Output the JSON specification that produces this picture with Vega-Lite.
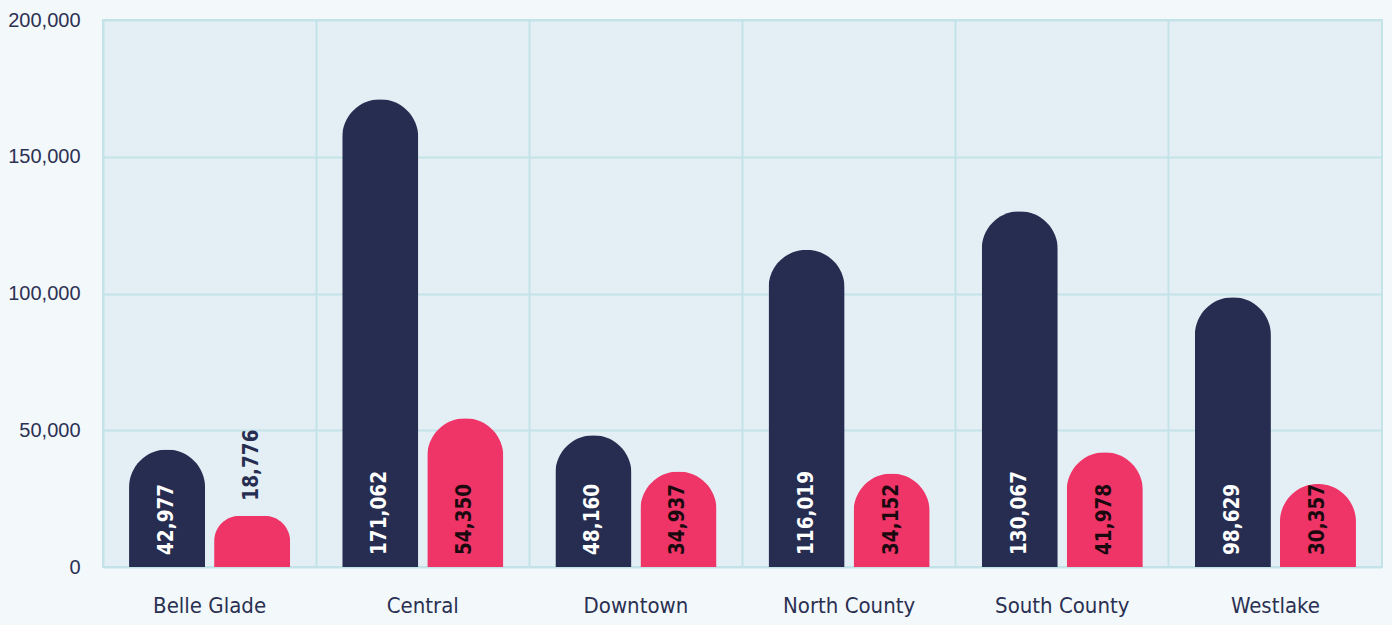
{
  "$schema": "https://vega.github.io/schema/vega-lite/v6.json",
  "width": 1279,
  "height": 547,
  "autosize": {"type": "none"},
  "padding": {"left": 103, "top": 20, "right": 10, "bottom": 58},
  "background": "#f3f8fb",
  "config": {
    "view": {"fill": "#e3eff5", "stroke": "#c3e3e8", "strokeWidth": 2},
    "axis": {"gridColor": "#c3e3e8", "gridWidth": 2, "gridOpacity": 1}
  },
  "data": {
    "values": [
      {"branch": "Belle Glade", "series": "Series A", "value": 42977},
      {"branch": "Belle Glade", "series": "Series B", "value": 18776},
      {"branch": "Central", "series": "Series A", "value": 171062},
      {"branch": "Central", "series": "Series B", "value": 54350},
      {"branch": "Downtown", "series": "Series A", "value": 48160},
      {"branch": "Downtown", "series": "Series B", "value": 34937},
      {"branch": "North County", "series": "Series A", "value": 116019},
      {"branch": "North County", "series": "Series B", "value": 34152},
      {"branch": "South County", "series": "Series A", "value": 130067},
      {"branch": "South County", "series": "Series B", "value": 41978},
      {"branch": "Westlake", "series": "Series A", "value": 98629},
      {"branch": "Westlake", "series": "Series B", "value": 30357}
    ]
  },
  "encoding": {
    "x": {
      "field": "branch",
      "type": "nominal",
      "scale": {"paddingInner": 0, "paddingOuter": 0},
      "axis": {
        "title": null,
        "labelAngle": 0,
        "labelFont": "DejaVu Sans Condensed, sans-serif",
        "labelFontSize": 22,
        "labelColor": "#2a3052",
        "labelPadding": 28,
        "ticks": false,
        "domain": false,
        "grid": true,
        "bandPosition": 0
      }
    },
    "xOffset": {
      "field": "series",
      "type": "nominal",
      "scale": {"paddingInner": 0.106, "paddingOuter": 0.306}
    }
  },
  "layer": [
    {
      "mark": {"type": "bar", "cornerRadiusTopLeft": 38, "cornerRadiusTopRight": 38},
      "encoding": {
        "y": {
          "field": "value",
          "type": "quantitative",
          "scale": {"domain": [0, 200000]},
          "axis": {
            "title": null,
            "values": [0, 50000, 100000, 150000, 200000],
            "format": ",d",
            "labelFont": "Liberation Sans, sans-serif",
            "labelFontSize": 20,
            "labelColor": "#2c3153",
            "labelPadding": 23,
            "ticks": false,
            "domain": false,
            "grid": true
          }
        },
        "color": {
          "field": "series",
          "type": "nominal",
          "scale": {"range": ["#262d51", "#ef3467"]},
          "legend": null
        }
      }
    },
    {
      "transform": [{"filter": "datum.value >= 25000"}],
      "mark": {
        "type": "text",
        "angle": 270,
        "align": "left",
        "baseline": "middle",
        "dx": 12,
        "font": "DejaVu Sans Condensed, sans-serif",
        "fontWeight": "bold",
        "fontSize": 20.5
      },
      "encoding": {
        "y": {"datum": 0, "type": "quantitative"},
        "text": {"field": "value", "type": "quantitative", "format": ",d"},
        "color": {
          "condition": {"test": "datum.series === 'Series A'", "value": "#ffffff"},
          "value": "#1a0a10"
        }
      }
    },
    {
      "transform": [{"filter": "datum.value < 25000"}],
      "mark": {
        "type": "text",
        "angle": 270,
        "align": "left",
        "baseline": "middle",
        "dx": 15,
        "font": "DejaVu Sans Condensed, sans-serif",
        "fontWeight": "bold",
        "fontSize": 20.5,
        "color": "#262d51"
      },
      "encoding": {
        "y": {"field": "value", "type": "quantitative"},
        "text": {"field": "value", "type": "quantitative", "format": ",d"}
      }
    }
  ]
}
